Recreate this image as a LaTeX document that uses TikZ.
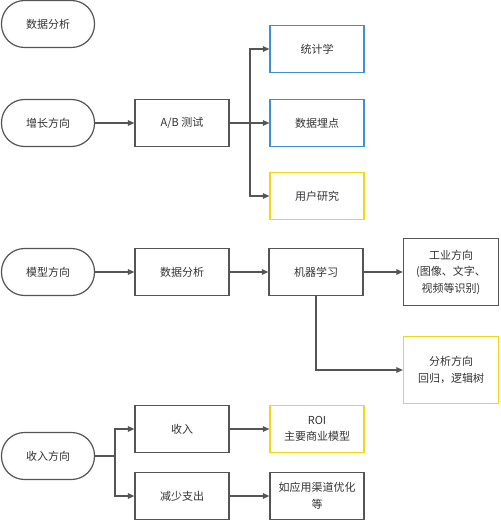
\documentclass[tikz,border=0pt]{standalone}
\usepackage{fontspec}
\setmainfont{Noto Sans CJK SC}
\usetikzlibrary{arrows.meta}
\usetikzlibrary{positioning}
\definecolor{linegray}{HTML}{555555}
\definecolor{boxblue}{HTML}{3D8FD9}
\definecolor{boxyellow}{HTML}{F2D814}
\tikzset{
    pill/.style={
        draw=linegray,
        rectangle,
        rounded corners=23pt,
        minimum width=93pt,
        minimum height=47pt,
        line width=1.2pt,
        text=black!80
    },
    stepbox/.style={
        draw=linegray,
        rectangle,
        minimum width=94pt,
        minimum height=47pt,
        line width=1.2pt,
        align=center,
        text=black!80
    },
    arrow/.style={
        draw=linegray,
        line width=1.2pt,
        -{Triangle[length=6.5pt, width=5.5pt]}
    }
}
\tikzset{
  every node/.style={font=\fontsize{11}{16.5}\selectfont}
}

\begin{document}
\begin{tikzpicture}[x=1pt, y=-1pt]
    \useasboundingbox (0,0) rectangle (500,521);
    \node[pill] (title) at (48,24) {数据分析};

    % growth row
    \node[pill] (grow) at (48,123) {增长方向};
    \node[stepbox] (ab) at (182,123) {A/B 测试};
    \node[stepbox, draw=boxblue] (stat) at (317,49) {统计学};
    \node[stepbox, draw=boxblue] (track) at (317,123) {数据埋点};
    \node[stepbox, draw=boxyellow] (user) at (317,196) {用户研究};
    \coordinate (abfork) at (250,123);

    \draw[arrow] (grow) -- (ab);
    \draw[arrow] (ab) -- (abfork) |- (stat.west);
    \draw[arrow] (abfork) -- (track);
    \draw[arrow] (abfork) |- (user.west);

    % model row
    \node[pill] (model) at (48,272) {模型方向};
    \node[stepbox] (data) at (182,272) {数据分析};
    \node[stepbox] (ml) at (316,272) {机器学习};
    \node[stepbox, minimum width=95pt, minimum height=67pt] (ind) at (451,272) {工业方向\\(图像、文字、\\视频等识别)};
    \node[stepbox, draw=boxyellow, minimum width=95pt, minimum height=67pt] (ana) at (451,370) {分析方向\\回归，逻辑树};

    \draw[arrow] (model) -- (data);
    \draw[arrow] (data) -- (ml);
    \draw[arrow] (ml) -- (ind);
    \draw[arrow] (ml.south) |- (ana.west);

    % income row
    \node[pill] (inc) at (48,456) {收入方向};
    \node[stepbox] (rev) at (182,429) {收入};
    \node[stepbox] (cut) at (182,496) {减少支出};
    \node[stepbox, draw=boxyellow] (roi) at (317,429) {ROI\\主要商业模型};
    \node[stepbox] (chan) at (317,496) {如应用渠道优化\\等};
    \coordinate (incfork) at (115,456);

    \draw[arrow] (inc) -- (incfork) |- (rev.west);
    \draw[arrow] (incfork) |- (cut.west);
    \draw[arrow] (rev) -- (roi);
    \draw[arrow] (cut) -- (chan);
\end{tikzpicture}
\end{document}
